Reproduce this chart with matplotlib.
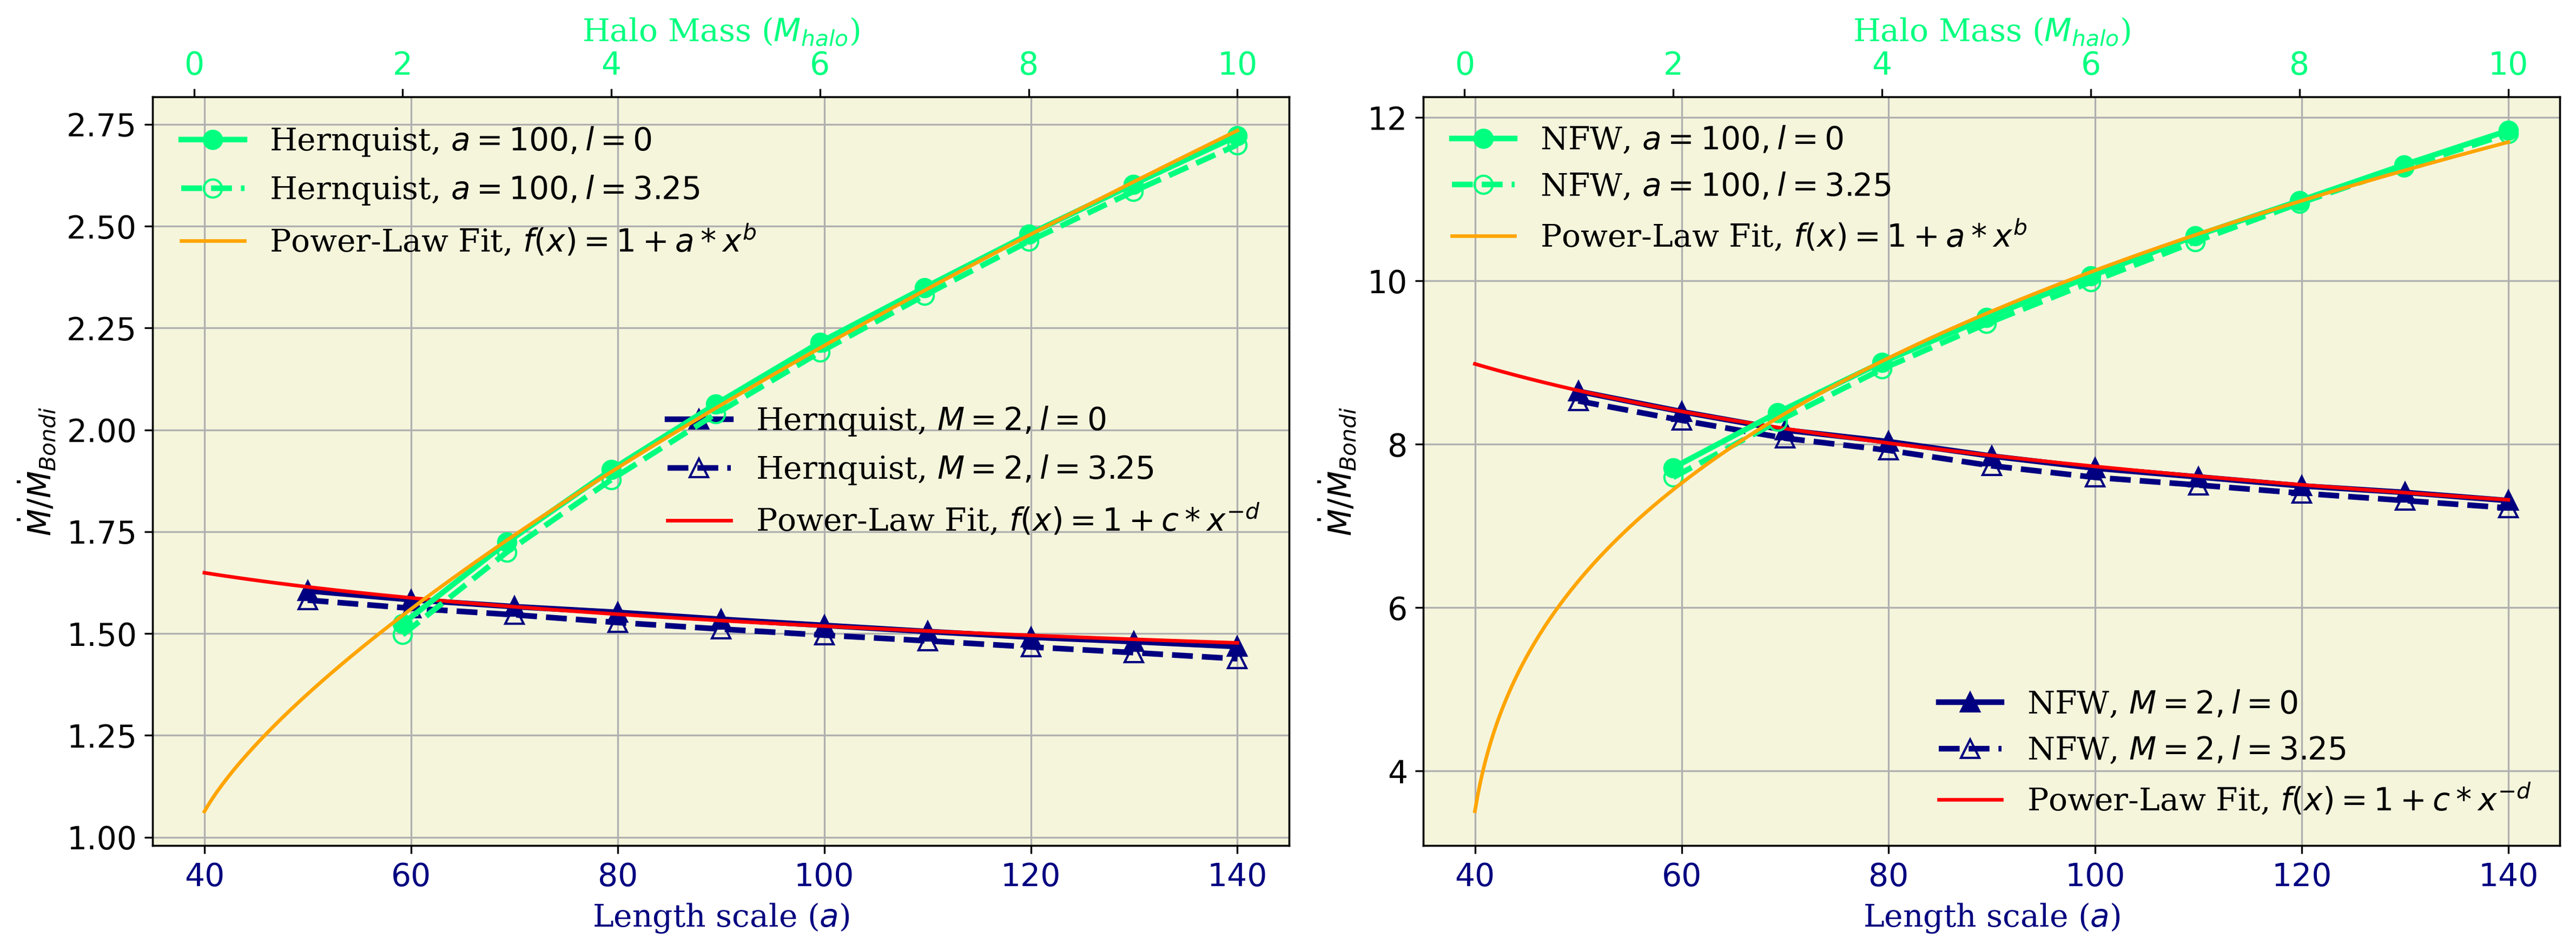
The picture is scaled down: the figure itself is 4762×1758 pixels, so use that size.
import numpy as np
import matplotlib
matplotlib.use("Agg")
import matplotlib.pyplot as plt

# bottom axis: length scale a, top axis: halo mass
length_scale = [50, 60, 70, 80, 90, 100, 110, 120, 130, 140]
halo_mass = [2, 3, 4, 5, 6, 7, 8, 9, 10]

# Hernquist
hern_len_l0 = [1.605, 1.583, 1.566, 1.552, 1.535, 1.520, 1.505, 1.491, 1.480, 1.468]
hern_len_l3 = [1.582, 1.562, 1.546, 1.527, 1.511, 1.496, 1.482, 1.467, 1.453, 1.438]
hern_mass_l0 = [1.524, 1.724, 1.902, 2.063, 2.215, 2.349, 2.480, 2.603, 2.722]
hern_mass_l3 = [1.497, 1.700, 1.878, 2.039, 2.191, 2.330, 2.463, 2.585, 2.700]

# NFW
nfw_len_l0 = [8.648, 8.399, 8.174, 8.032, 7.855, 7.707, 7.600, 7.490, 7.410, 7.310]
nfw_len_l3 = [8.530, 8.293, 8.074, 7.926, 7.736, 7.594, 7.500, 7.400, 7.310, 7.220]
nfw_mass_l0 = [7.712, 8.388, 9.003, 9.548, 10.058, 10.55, 10.98, 11.42, 11.84]
nfw_mass_l3 = [7.594, 8.280, 8.920, 9.475, 9.985, 10.48, 10.95, 11.39, 11.80]

# power-law fit parameters
hern_mass_fit = (0.3306, 0.720)   # f = 1 + a*x**b
hern_len_fit = (1.608, 0.2459)    # f = 1 + c*x**-d
nfw_mass_fit = (5.18, 0.315)
nfw_len_fit = (15.89, 0.1866)

mass_range = (0.1, 10)
len_range = (40, 140)

GREEN = 'springgreen'
FS = 14


def draw_panel(ax, name, len_l0, len_l3, mass_l0, mass_l3, len_fit, mass_fit, loc2):
    ax.set_facecolor('beige')

    # data against length scale
    ax.plot(length_scale, len_l0, '-^', color='navy', lw=2.5, ms=8,
            label=name + r', $M=2, l=0$')
    ax.plot(length_scale, len_l3, '--^', color='navy', lw=2.5, ms=8, mfc='none',
            label=name + r', $M=2, l=3.25$')
    xl = np.linspace(len_range[0], len_range[1], 300)
    ax.plot(xl, 1 + len_fit[0] * xl ** (-len_fit[1]), color='red', lw=1.6,
            label=r'Power-Law Fit, $f(x) = 1 + c*x^{-d}$')

    ax.set_xlabel('Length scale ($a$)', color='navy', family='serif', fontsize=FS)
    ax.set_ylabel(r'$\dot{M}/\dot{M}_{Bondi}$', fontsize=FS)
    ax.tick_params(axis='x', labelcolor='navy', labelsize=FS)
    ax.tick_params(axis='y', labelsize=FS)
    ax.grid(True)
    ax.legend(loc=loc2, frameon=False, prop={'family': 'serif', 'size': FS})

    # data against halo mass on the top axis
    ax2 = ax.twiny()
    ax2.plot(halo_mass, mass_l0, '-o', color=GREEN, lw=2.5, ms=8,
             label=name + r', $a=100, l=0$')
    ax2.plot(halo_mass, mass_l3, '--o', color=GREEN, lw=2.5, ms=8, mfc='none',
             label=name + r', $a=100, l=3.25$')
    xm = np.linspace(mass_range[0], mass_range[1], 400)
    ax2.plot(xm, 1 + mass_fit[0] * xm ** mass_fit[1], color='orange', lw=1.6,
             label=r'Power-Law Fit, $f(x) = 1 + a*x^b$')
    ax2.set_xlabel('Halo Mass ($M_{halo}$)', color=GREEN, family='serif', fontsize=FS)
    ax2.tick_params(axis='x', labelcolor=GREEN, labelsize=FS)
    ax2.legend(loc='upper left', frameon=False, prop={'family': 'serif', 'size': FS})
    return ax2


fig = plt.figure(figsize=(4762 / 300, 1758 / 300), dpi=300)
ax_l = fig.add_axes([0.0593, 0.1107, 0.4411, 0.7876])
ax_r = fig.add_axes([0.5525, 0.1107, 0.4413, 0.7876])

draw_panel(ax_l, 'Hernquist', hern_len_l0, hern_len_l3, hern_mass_l0, hern_mass_l3,
           hern_len_fit, hern_mass_fit, 'center right')
draw_panel(ax_r, 'NFW', nfw_len_l0, nfw_len_l3, nfw_mass_l0, nfw_mass_l3,
           nfw_len_fit, nfw_mass_fit, 'lower right')

ax_l.set_ylim(0.979, 2.818)
ax_r.set_ylim(3.085, 12.254)

fig.savefig('out.png', dpi=300)
